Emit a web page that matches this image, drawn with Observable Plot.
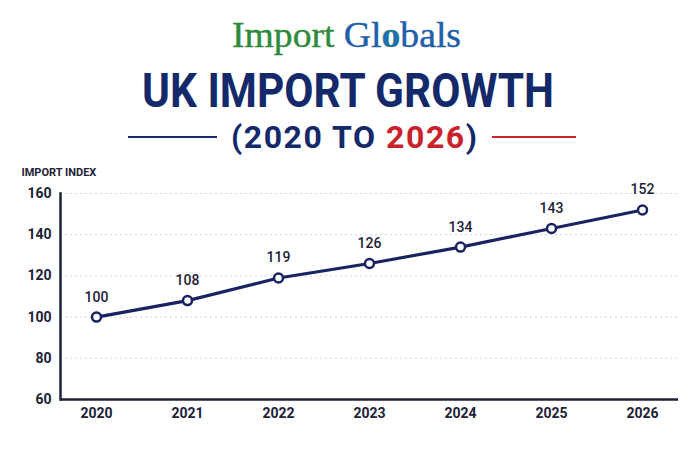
<!DOCTYPE html>
<html>
<head>
<meta charset="utf-8">
<script src="https://cdn.jsdelivr.net/npm/d3@7"></script>
<script src="https://cdn.jsdelivr.net/npm/@observablehq/plot@0.6"></script>
<style>
  html, body { margin: 0; padding: 0; background: #ffffff; }
  #wrap { width: 700px; height: 450px; position: relative; overflow: hidden; }
  svg { display: block; }
</style>
</head>
<body>
<div id="wrap">
  <svg id="header" width="700" height="160" viewBox="0 0 700 160">
    <text x="232" y="47" textLength="229" lengthAdjust="spacingAndGlyphs" font-family="Liberation Serif, serif" font-size="36" stroke-width="0.4">
      <tspan fill="#2f8a3c" stroke="#2f8a3c">Import </tspan><tspan fill="#1f5ea8" stroke="#1f5ea8">Gl</tspan><tspan fill="#1f6fb8" stroke="#2f8a3c" font-weight="bold">o</tspan><tspan fill="#1f5ea8" stroke="#1f5ea8">bals</tspan>
    </text>
    <text x="142" y="107" textLength="412" lengthAdjust="spacingAndGlyphs" font-family="Roboto, sans-serif" font-weight="700" font-size="48" fill="#14296a">UK IMPORT GROWTH</text>
    <line x1="128" x2="217" y1="137" y2="137" stroke="#14296a" stroke-width="2"/>
    <line x1="492" x2="576" y1="137" y2="137" stroke="#c8232c" stroke-width="2"/>
    <text x="231" y="148" textLength="246" lengthAdjust="spacing" font-family="Roboto, sans-serif" font-weight="700" font-size="32" fill="#14296a"><tspan>(2020 TO </tspan><tspan fill="#c8232c">2026</tspan><tspan>)</tspan></text>
  </svg>
  <div id="chart"></div>
</div>
<script>
const years = ["2020", "2021", "2022", "2023", "2024", "2025", "2026"];
const values = [100, 108, 119, 126, 134, 143, 152];
const yTicks = [60, 80, 100, 120, 140, 160];
const gridValues = [80, 100, 120, 140, 160];
const axisLabel = "IMPORT INDEX";

const data = years.map((year, i) => ({year, value: values[i]}));
const navy = "#1a2362";
const ink = "#1d2236";

const chart = Plot.plot({
  width: 700,
  height: 290,
  marginTop: 33,
  marginBottom: 51,
  marginLeft: 60,
  marginRight: 22,
  style: {fontFamily: "Roboto, sans-serif", color: ink, background: "transparent"},
  x: {type: "point", domain: years, padding: 0.38},
  y: {domain: [60, 160]},
  marks: [
    Plot.ruleY(gridValues, {stroke: "#d6d6d6", strokeDasharray: "2,3", strokeWidth: 1}),
    Plot.ruleY([60], {stroke: ink, strokeWidth: 2.5}),
    Plot.frame({anchor: "left", stroke: ink, strokeWidth: 2.5}),
    Plot.axisX({tickSize: 0, tickPadding: 9, fontSize: 14, fontWeight: 700, label: null}),
    Plot.axisY({ticks: yTicks, tickSize: 0, tickPadding: 9, fontSize: 14, fontWeight: 700, label: null}),
    Plot.line(data, {x: "year", y: "value", stroke: navy, strokeWidth: 3.2}),
    Plot.dot(data, {x: "year", y: "value", r: 4.5, fill: "white", stroke: navy, strokeWidth: 2.5}),
    Plot.text(data, {x: "year", y: "value", text: d => String(d.value), dy: -20, fontSize: 14, fontWeight: 500, fill: ink}),
    Plot.text([axisLabel], {frameAnchor: "top-left", dx: -39, dy: -21, textAnchor: "start", lineAnchor: "middle", fontSize: 11, fontWeight: 700, fill: ink})
  ]
});
document.getElementById("chart").appendChild(chart);
</script>
</body>
</html>
